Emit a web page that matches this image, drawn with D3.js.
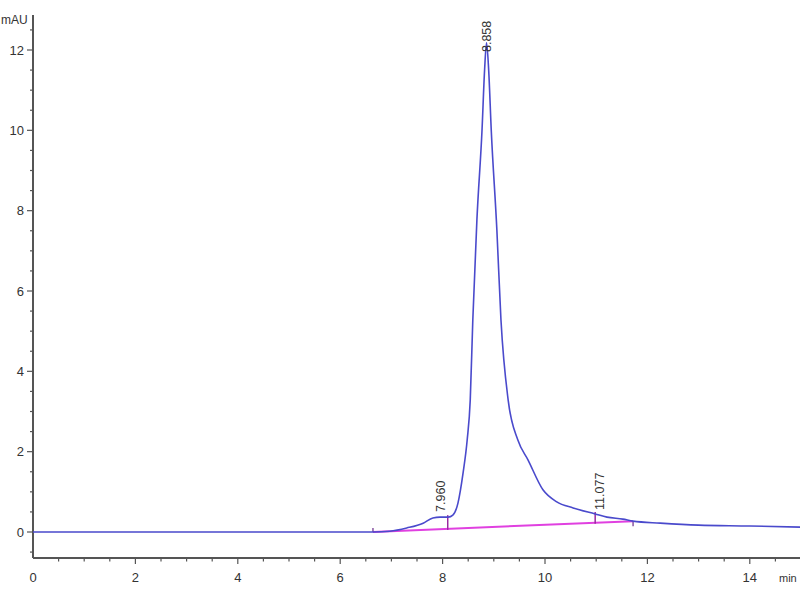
<!DOCTYPE html>
<html>
<head>
<meta charset="utf-8">
<script src="https://cdn.jsdelivr.net/npm/d3@7"></script>
<style>
  body { margin: 0; background: #fff; }
  svg text { font-family: "Liberation Sans Narrow", "Liberation Sans", Arial, sans-serif; }
</style>
</head>
<body>
<div id="chart"></div>
<script>
// chromatogram trace (min, mAU)
const traceTime = [0, 1, 2, 3, 4, 5, 6, 6.64, 6.97, 7.3, 7.62, 7.81, 7.95, 8.11, 8.2, 8.3, 8.4,
  8.48, 8.54, 8.59, 8.67, 8.77, 8.82, 8.858, 8.9, 8.95, 9.06, 9.14, 9.28, 9.47, 9.67, 9.96,
  10.23, 10.55, 10.98, 11.21, 11.52, 11.72, 12.25, 13, 14, 15];
const traceValue = [0, 0, 0, 0, 0, 0, 0, 0, 0.02, 0.1, 0.22, 0.35, 0.37, 0.37, 0.42, 0.72, 1.47,
  2.29, 3.29, 5.28, 7.77, 10.01, 11.5, 12.18, 11.5, 10.01, 7.52, 5.28, 3.29, 2.29, 1.79, 1.05,
  0.75, 0.6, 0.45, 0.37, 0.32, 0.27, 0.22, 0.17, 0.15, 0.12];

// integration baseline and drop lines
const baseTime = [6.64, 11.72];
const baseValue = [0, 0.27];
const dropTime = [8.1, 10.98];

// peak labels
const peakTime = [7.96, 8.858, 11.077];
const peakLabel = ["7.960", "8.858", "11.077"];
const peakLabelY = [0.5, 11.95, 0.55];

const xTicks = [0, 2, 4, 6, 8, 10, 12, 14];
const yTicks = [0, 2, 4, 6, 8, 10, 12];

const width = 800;
const height = 600;

const x = d3.scaleLinear().domain([0, 15]).range([33, 801]);
const y = d3.scaleLinear().domain([0, 12]).range([532, 50]);

const svg = d3.select("#chart").append("svg")
  .attr("width", width)
  .attr("height", height);

const axisColor = "#555";
const yBottom = 558;
const yTop = 15;

// axes lines
svg.append("line")
  .attr("x1", x(0)).attr("x2", x(0))
  .attr("y1", yTop).attr("y2", yBottom)
  .attr("stroke", axisColor).attr("stroke-width", 2);
svg.append("line")
  .attr("x1", x(0)).attr("x2", width)
  .attr("y1", yBottom).attr("y2", yBottom)
  .attr("stroke", axisColor).attr("stroke-width", 2);

// y ticks (minor every 0.5)
const yMinor = d3.range(-0.5, 13, 0.5).filter(v => y(v) < yBottom - 2 && y(v) > yTop);
svg.append("g").selectAll("line")
  .data(yMinor)
  .enter()
  .append("line")
  .attr("x1", d => x(0) - (Number.isInteger(d / 2) ? 6 : 3))
  .attr("x2", x(0))
  .attr("y1", d => y(d)).attr("y2", d => y(d))
  .attr("stroke", axisColor).attr("stroke-width", 1.2);

svg.append("g").selectAll("text")
  .data(yTicks)
  .enter()
  .append("text")
  .attr("x", x(0) - 9)
  .attr("y", d => y(d) + 4.5)
  .attr("text-anchor", "end")
  .attr("font-size", 13)
  .attr("fill", "#333")
  .text(d => d);

svg.append("text")
  .attr("x", 1).attr("y", 24)
  .attr("font-size", 12)
  .attr("fill", "#333")
  .text("mAU");

// x ticks (minor every 0.5)
const xMinor = d3.range(0.5, 15, 0.5);
svg.append("g").selectAll("line")
  .data(xMinor)
  .enter()
  .append("line")
  .attr("x1", d => x(d)).attr("x2", d => x(d))
  .attr("y1", yBottom)
  .attr("y2", d => yBottom + (Number.isInteger(d / 2) ? 6 : 3.5))
  .attr("stroke", axisColor).attr("stroke-width", 1.2);

svg.append("g").selectAll("text")
  .data(xTicks)
  .enter()
  .append("text")
  .attr("x", d => x(d))
  .attr("y", 582)
  .attr("text-anchor", "middle")
  .attr("font-size", 13)
  .attr("fill", "#333")
  .text(d => d);

svg.append("text")
  .attr("x", 779).attr("y", 582)
  .attr("font-size", 11)
  .attr("fill", "#333")
  .text("min");

// integration baseline
svg.append("line")
  .attr("x1", x(baseTime[0])).attr("y1", y(baseValue[0]))
  .attr("x2", x(baseTime[1])).attr("y2", y(baseValue[1]))
  .attr("stroke", "#e040e0").attr("stroke-width", 2);

const baseAt = t => baseValue[0] + (baseValue[1] - baseValue[0]) * (t - baseTime[0]) / (baseTime[1] - baseTime[0]);
const traceAt = d3.scaleLinear().domain(traceTime).range(traceValue);

// start/end ticks
svg.append("line")
  .attr("x1", x(baseTime[0])).attr("x2", x(baseTime[0]))
  .attr("y1", y(baseValue[0]) - 4).attr("y2", y(baseValue[0]))
  .attr("stroke", "#6a2a8a").attr("stroke-width", 1.2);
svg.append("line")
  .attr("x1", x(baseTime[1])).attr("x2", x(baseTime[1]))
  .attr("y1", y(baseValue[1])).attr("y2", y(baseValue[1]) + 5)
  .attr("stroke", "#6a2a8a").attr("stroke-width", 1.2);

// drop lines
svg.append("g").selectAll("line")
  .data(dropTime)
  .enter()
  .append("line")
  .attr("x1", d => x(d)).attr("x2", d => x(d))
  .attr("y1", d => y(traceAt(d)) - 2)
  .attr("y2", d => y(baseAt(d)) + 1)
  .attr("stroke", "#9a2aa0").attr("stroke-width", 1.5);

// trace
const traceData = traceTime.map((t, i) => [t, traceValue[i]]);
svg.append("path")
  .datum(traceData)
  .attr("fill", "none")
  .attr("stroke", "#4a4acc")
  .attr("stroke-width", 1.6)
  .attr("d", d3.line().x(d => x(d[0])).y(d => y(d[1])).curve(d3.curveMonotoneX));

// peak labels
svg.append("g").selectAll("text")
  .data(peakTime)
  .enter()
  .append("text")
  .attr("transform", (d, i) => "translate(" + (x(d) + 4) + "," + y(peakLabelY[i]) + ") rotate(-90)")
  .attr("font-size", 12.5)
  .attr("fill", "#333")
  .text((d, i) => peakLabel[i]);
</script>
</body>
</html>
